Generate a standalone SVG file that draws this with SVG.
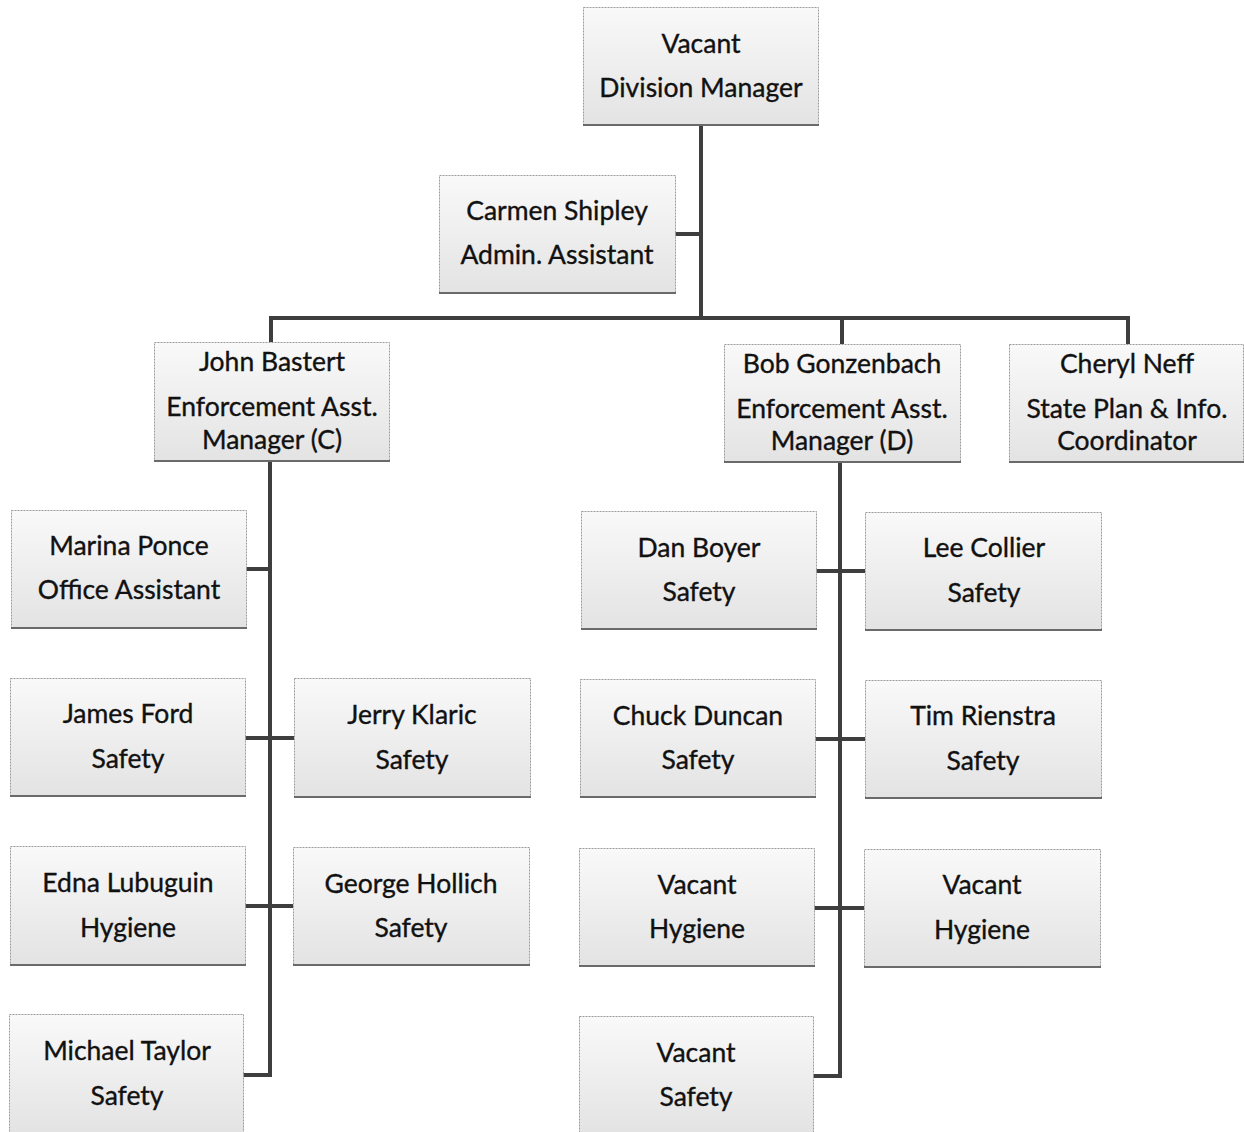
<svg xmlns="http://www.w3.org/2000/svg" width="1244" height="1132" viewBox="0 0 1244 1132">
<defs>
<linearGradient id="g" x1="0" y1="0" x2="0" y2="1">
<stop offset="0" stop-color="#f9f9f9"/>
<stop offset="1" stop-color="#e3e3e3"/>
</linearGradient>
<style>
.b{fill:url(#g);stroke:#9a9a9a;stroke-width:1;stroke-dasharray:2 1}
.s{stroke:#6a6a6a;stroke-width:2}
.t{font-family:Lato,"Liberation Sans",sans-serif;font-size:26.5px;fill:#111111;stroke:#111111;stroke-width:0.35;text-anchor:middle}
.c{fill:none;stroke:#3e3e3e;stroke-width:4}
</style>
</defs>
<rect width="1244" height="1132" fill="#ffffff"/>
<g id="connectors">
<path class="c" d="M701 125V318M675 234H701M271 342V318H1128V344M842 318V344"/>
<path class="c" d="M270 461V1075H243M246 569H270M245 738H294M245 906H293"/>
<path class="c" d="M840 462V1076H813M816 571H865M815 739H865M814 908H864"/>
</g>
<g id="n1"><rect class="b" x="583.500" y="7.500" width="235" height="118"/><line class="s" x1="583" y1="125" x2="819" y2="125"/><text class="t" x="701" y="53">Vacant</text><text class="t" x="701" y="97">Division Manager</text></g>
<g id="n2"><rect class="b" x="439.500" y="175.500" width="236" height="118"/><line class="s" x1="439" y1="293" x2="676" y2="293"/><text class="t" x="557" y="220">Carmen Shipley</text><text class="t" x="557" y="264">Admin. Assistant</text></g>
<g id="n3"><rect class="b" x="154.500" y="342.500" width="235" height="119"/><line class="s" x1="154" y1="461" x2="390" y2="461"/><text class="t" x="272" y="371">John Bastert</text><text class="t" x="272" y="416">Enforcement Asst.</text><text class="t" x="272" y="449">Manager (C)</text></g>
<g id="n4"><rect class="b" x="724.500" y="344.500" width="236" height="118"/><line class="s" x1="724" y1="462" x2="961" y2="462"/><text class="t" x="842" y="373">Bob Gonzenbach</text><text class="t" x="842" y="418">Enforcement Asst.</text><text class="t" x="842" y="450">Manager (D)</text></g>
<g id="n5"><rect class="b" x="1009.500" y="344.500" width="234" height="118"/><line class="s" x1="1009" y1="462" x2="1244" y2="462"/><text class="t" x="1127" y="373">Cheryl Neff</text><text class="t" x="1127" y="418">State Plan &amp; Info.</text><text class="t" x="1127" y="450">Coordinator</text></g>
<g id="n6"><rect class="b" x="11.500" y="510.500" width="235" height="118"/><line class="s" x1="11" y1="628" x2="247" y2="628"/><text class="t" x="129" y="555">Marina Ponce</text><text class="t" x="129" y="599">Office Assistant</text></g>
<g id="n7"><rect class="b" x="10.500" y="678.500" width="235" height="118"/><line class="s" x1="10" y1="796" x2="246" y2="796"/><text class="t" x="128" y="723">James Ford</text><text class="t" x="128" y="768">Safety</text></g>
<g id="n8"><rect class="b" x="294.500" y="678.500" width="236" height="119"/><line class="s" x1="294" y1="797" x2="531" y2="797"/><text class="t" x="412" y="724">Jerry Klaric</text><text class="t" x="412" y="769">Safety</text></g>
<g id="n9"><rect class="b" x="10.500" y="846.500" width="235" height="119"/><line class="s" x1="10" y1="965" x2="246" y2="965"/><text class="t" x="128" y="892">Edna Lubuguin</text><text class="t" x="128" y="937">Hygiene</text></g>
<g id="n10"><rect class="b" x="293.500" y="847.500" width="236" height="118"/><line class="s" x1="293" y1="965" x2="530" y2="965"/><text class="t" x="411" y="893">George Hollich</text><text class="t" x="411" y="937">Safety</text></g>
<g id="n11"><rect class="b" x="9.500" y="1014.500" width="234" height="120"/><text class="t" x="127" y="1060">Michael Taylor</text><text class="t" x="127" y="1105">Safety</text></g>
<g id="n12"><rect class="b" x="581.500" y="511.500" width="235" height="118"/><line class="s" x1="581" y1="629" x2="817" y2="629"/><text class="t" x="699" y="557">Dan Boyer</text><text class="t" x="699" y="601">Safety</text></g>
<g id="n13"><rect class="b" x="865.500" y="512.500" width="236" height="118"/><line class="s" x1="865" y1="630" x2="1102" y2="630"/><text class="t" x="984" y="557">Lee Collier</text><text class="t" x="984" y="602">Safety</text></g>
<g id="n14"><rect class="b" x="580.500" y="679.500" width="235" height="118"/><line class="s" x1="580" y1="797" x2="816" y2="797"/><text class="t" x="698" y="725">Chuck Duncan</text><text class="t" x="698" y="769">Safety</text></g>
<g id="n15"><rect class="b" x="865.500" y="680.500" width="236" height="118"/><line class="s" x1="865" y1="798" x2="1102" y2="798"/><text class="t" x="983" y="725">Tim Rienstra</text><text class="t" x="983" y="770">Safety</text></g>
<g id="n16"><rect class="b" x="579.500" y="848.500" width="235" height="118"/><line class="s" x1="579" y1="966" x2="815" y2="966"/><text class="t" x="697" y="894">Vacant</text><text class="t" x="697" y="938">Hygiene</text></g>
<g id="n17"><rect class="b" x="864.500" y="849.500" width="236" height="118"/><line class="s" x1="864" y1="967" x2="1101" y2="967"/><text class="t" x="982" y="894">Vacant</text><text class="t" x="982" y="939">Hygiene</text></g>
<g id="n18"><rect class="b" x="579.500" y="1016.500" width="234" height="118"/><text class="t" x="696" y="1062">Vacant</text><text class="t" x="696" y="1106">Safety</text></g>
</svg>
